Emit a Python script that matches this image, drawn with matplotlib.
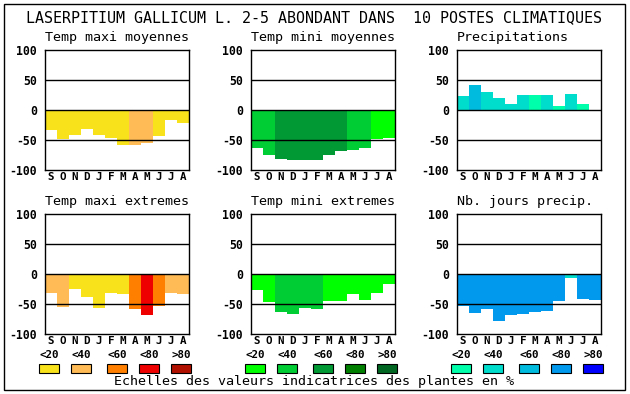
import matplotlib
matplotlib.use("Agg")
import matplotlib.pyplot as plt
from matplotlib.patches import Rectangle

W, H = 630, 394
months = ["S", "O", "N", "D", "J", "F", "M", "A", "M", "J", "J", "A"]
yticks = [-100, -50, 0, 50, 100]
scale_labels = ["<20", "<40", "<60", "<80", ">80"]

warm = ["#F8E21C", "#FFBB55", "#FF8000", "#EE0000", "#B01000"]
green = ["#00FF00", "#00CC33", "#009933", "#007F00", "#006622"]
blue = ["#00FFAA", "#00DDCC", "#00BBDD", "#0099EE", "#0000FF"]

titles = ["Temp maxi moyennes", "Temp mini moyennes", "Precipitations",
          "Temp maxi extremes", "Temp mini extremes", "Nb. jours precip."]

tmax_moy = [-33, -48, -42, -32, -42, -47, -58, -58, -55, -43, -17, -22]
tmax_moy_cls = [0, 0, 0, 0, 0, 0, 0, 1, 1, 0, 0, 0]
tmin_moy = [-63, -75, -82, -83, -83, -83, -75, -68, -67, -63, -48, -47]
tmin_moy_cls = [1, 1, 2, 2, 2, 2, 2, 2, 1, 1, 0, 0]
precip = [23, 42, 30, 20, 10, 25, 25, 25, 7, 27, 10, -2]
precip_cls = [1, 2, 1, 1, 1, 1, 0, 1, 0, 1, 0, 1]
tmax_ext = [-32, -55, -25, -38, -57, -32, -33, -58, -68, -53, -32, -33]
tmax_ext_cls = [1, 1, 0, 0, 0, 0, 0, 2, 3, 2, 1, 1]
tmin_ext = [-27, -47, -63, -67, -57, -58, -45, -45, -33, -43, -32, -17]
tmin_ext_cls = [0, 0, 1, 1, 1, 1, 0, 0, 0, 0, 0, 0]
nbjours = [-53, -65, -58, -78, -68, -67, -63, -62, -45, -7, -42, -43]
nbjours_cls = [3, 3, 3, 3, 3, 3, 3, 3, 3, 1, 3, 3]

panels = [
    (tmax_moy, tmax_moy_cls, warm),
    (tmin_moy, tmin_moy_cls, green),
    (precip, precip_cls, blue),
    (tmax_ext, tmax_ext_cls, warm),
    (tmin_ext, tmin_ext_cls, green),
    (nbjours, nbjours_cls, blue),
]

fig = plt.figure(figsize=(W / 100, H / 100), dpi=100)
MONO = "DejaVu Sans Mono"

def fx(x):
    return x / W

def fy(y):
    return 1 - y / H

# outer border
fig.patches.append(Rectangle((fx(4), fy(390)), fx(621), (386) / H, transform=fig.transFigure,
                             fill=False, edgecolor="black", linewidth=1.0))

fig.text(fx(314), fy(18), "LASERPITIUM GALLICUM L. 2-5 ABONDANT DANS  10 POSTES CLIMATIQUES",
         ha="center", va="center", family=MONO, fontsize=10.8)

lefts = [45, 251, 457]
tops = [50, 214]
title_y = [38, 202]
for i, (vals, cls, pal) in enumerate(panels):
    r, c = divmod(i, 3)
    l, t = lefts[c], tops[r]
    ax = fig.add_axes([fx(l), fy(t + 120), 144 / W, 120 / H])
    x = list(range(len(months)))
    ax.bar(x, vals, width=1.0, align="edge", color=[pal[k] for k in cls], linewidth=0, zorder=1)
    for yv in (50, 0, -50):
        ax.axhline(yv, color="black", linewidth=1.0, zorder=3)
    ax.set_xlim(0, 12)
    ax.set_ylim(-100, 100)
    ax.set_yticks(yticks)
    ax.set_yticklabels([str(v) for v in yticks], family=MONO, fontweight="bold", fontsize=8.3)
    ax.set_xticks([k + 0.5 for k in x])
    ax.set_xticklabels(months, family=MONO, fontweight="bold", fontsize=7.8)
    ax.tick_params(length=0)
    ax.tick_params(axis="x", pad=1.5)
    ax.tick_params(axis="y", pad=6)
    for s in ax.spines.values():
        s.set_linewidth(1.0)
        s.set_zorder(4)
    fig.text(fx(l), fy(title_y[r]), titles[i], ha="left", va="center", family=MONO, fontsize=9.6)

# legend scales
pals = [warm, green, blue]
offsets = [-6, 26, 62, 94, 126]
for c in range(3):
    for j in range(5):
        bx = lefts[c] + offsets[j]
        fig.text(fx(bx + 10), fy(355), scale_labels[j], ha="center", va="center",
                 family=MONO, fontweight="bold", fontsize=7.8)
        fig.patches.append(Rectangle((fx(bx), fy(373)), 20 / W, 9 / H, transform=fig.transFigure,
                                     facecolor=pals[c][j], edgecolor="black", linewidth=0.8))

fig.text(fx(314.5), fy(382), "Echelles des valeurs indicatrices des plantes en %",
         ha="center", va="center", family=MONO, fontsize=9.6)

fig.savefig("out.png", dpi=100)
